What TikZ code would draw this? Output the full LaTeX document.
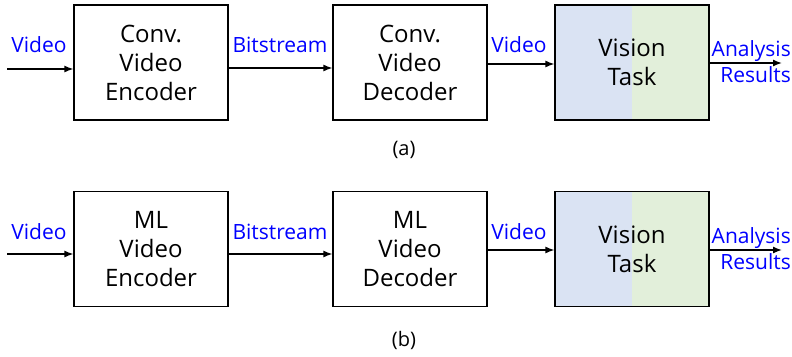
\documentclass[tikz,border=0pt]{standalone}
\usepackage{fontspec}
\setmainfont{Open Sans}
\usetikzlibrary{arrows.meta,positioning}
\definecolor{visblue}{RGB}{218,227,243}
\definecolor{visgreen}{RGB}{226,239,218}
\begin{document}
\begin{tikzpicture}[x=1pt,y=-1pt,
    box/.style={draw=black, line width=1.2pt, minimum width=154pt, minimum height=115pt, align=center, font=\fontsize{24}{29}\selectfont},
    visbox/.style={box, path picture={
        \fill[visblue] (path picture bounding box.north west) rectangle (path picture bounding box.south);
        \fill[visgreen] (path picture bounding box.north) rectangle (path picture bounding box.south east);}},
    lbl/.style={text=blue, font=\fontsize{21}{26}\selectfont, inner sep=0pt},
    subcap/.style={font=\fontsize{20}{22}\selectfont},
    flowarrow/.style={-{Latex[length=9pt,width=7pt]}, line width=1.4pt}
]
    \useasboundingbox (0,0) rectangle (792,356);

    % Row (a): conventional codec
    \node[box] (encA) at (151,62.5) {Conv.\\Video\\Encoder};
    \node[box] (decA) at (410,62.5) {Conv.\\Video\\Decoder};
    \node[visbox] (visA) at (632,62.5) {Vision\\Task};
    \coordinate (inA) at (7,69);
    \coordinate (outA) at (782,63);

    \draw[flowarrow] (inA) -- (inA -| encA.west);
    \draw[flowarrow] (encA.east |- 0,68) -- (decA.west |- 0,68);
    \draw[flowarrow] (decA.east |- 0,64) -- (visA.west |- 0,64);
    \draw[flowarrow] (visA.east |- outA) -- (outA);

    \node[lbl] (vinA) at (39,45) {Video};
    \node[lbl] (bitA) at (280,45) {Bitstream};
    \node[lbl] (voutA) at (519,45) {Video};
    \node[lbl, align=right, anchor=east] (resA) at (791,62) {Analysis\\Results};
    \node[subcap] (capA) at (404,150) {(a)};

    % Row (b): ML codec
    \node[box] (encB) at (151,249) {ML\\Video\\Encoder};
    \node[box] (decB) at (410,249) {ML\\Video\\Decoder};
    \node[visbox] (visB) at (632,249) {Vision\\Task};
    \coordinate (inB) at (7,254);
    \coordinate (outB) at (782,250);

    \draw[flowarrow] (inB) -- (inB -| encB.west);
    \draw[flowarrow] (encB.east |- 0,254) -- (decB.west |- 0,254);
    \draw[flowarrow] (decB.east |- 0,250) -- (visB.west |- 0,250);
    \draw[flowarrow] (visB.east |- outB) -- (outB);

    \node[lbl] (vinB) at (39,232) {Video};
    \node[lbl] (bitB) at (280,232) {Bitstream};
    \node[lbl] (voutB) at (519,232) {Video};
    \node[lbl, align=right, anchor=east] (resB) at (791,249) {Analysis\\Results};
    \node[subcap] (capB) at (404,340) {(b)};
\end{tikzpicture}
\end{document}
